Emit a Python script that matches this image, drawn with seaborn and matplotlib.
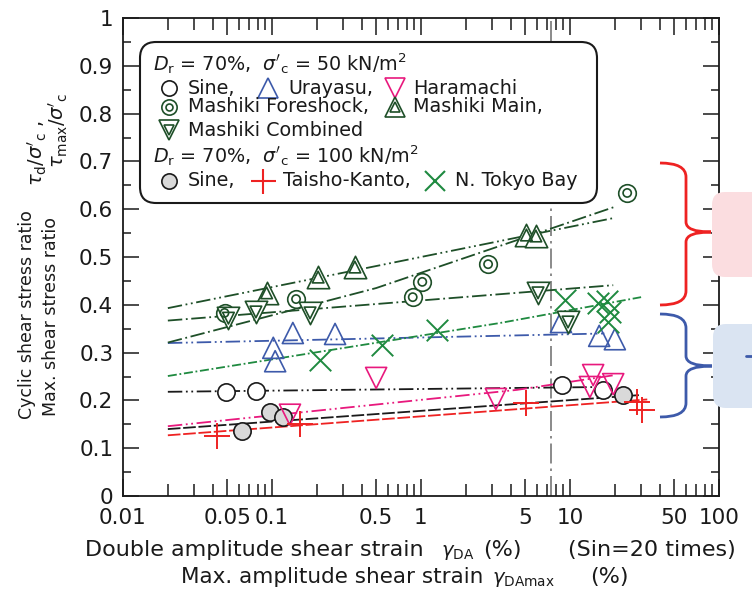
import numpy as np
import matplotlib
matplotlib.use("Agg")
import matplotlib.pyplot as plt
import seaborn as sns
from matplotlib.patches import FancyBboxPatch, PathPatch
from matplotlib.path import Path
from matplotlib.lines import Line2D
from matplotlib.ticker import FixedLocator, NullFormatter, FixedFormatter

sns.set_theme(style="ticks")
plt.rcParams['font.family'] = ['DejaVu Sans']
plt.rcParams['mathtext.fontset'] = 'dejavusans'

# ---------------- data ----------------
sine50_x = [0.049, 0.078, 8.9, 16.6]
sine50_y = [0.218, 0.220, 0.232, 0.222]
sine100_x = [0.063, 0.097, 0.119, 22.7]
sine100_y = [0.137, 0.176, 0.165, 0.211]
urayasu_x = [0.102, 0.105, 0.138, 0.265, 8.7, 15.7, 20.0]
urayasu_y = [0.310, 0.282, 0.341, 0.339, 0.364, 0.335, 0.328]
haramachi_x = [0.132, 0.50, 3.18, 13.6, 14.3, 19.5]
haramachi_y = [0.170, 0.247, 0.203, 0.228, 0.253, 0.234]
taisho_x = [0.043, 0.154, 5.1, 28.2, 30.5]
taisho_y = [0.125, 0.151, 0.195, 0.197, 0.180]
tokyo_x = [0.21, 0.547, 1.28, 9.2, 15.4, 17.7, 18.5, 17.9]
tokyo_y = [0.285, 0.316, 0.347, 0.410, 0.404, 0.408, 0.385, 0.364]
foreshock_x = [0.048, 0.145, 0.88, 1.02, 2.82, 24.2]
foreshock_y = [0.383, 0.412, 0.416, 0.448, 0.485, 0.634]
main_x = [0.092, 0.204, 0.36, 5.1, 5.9]
main_y = [0.425, 0.458, 0.479, 0.546, 0.544]
combined_x = [0.051, 0.078, 0.18, 6.1, 9.7]
combined_y = [0.372, 0.385, 0.383, 0.425, 0.364]

# trend lines
sine50_fit_x, sine50_fit_y = [0.02, 16], [0.218, 0.228]
sine100_fit_x, sine100_fit_y = [0.02, 29], [0.140, 0.211]
urayasu_fit_x, urayasu_fit_y = [0.02, 17], [0.320, 0.340]
haramachi_fit_x, haramachi_fit_y = [0.02, 4.4, 20], [0.146, 0.222, 0.253]
taisho_fit_x, taisho_fit_y = [0.02, 33], [0.127, 0.202]
tokyo_fit_x, tokyo_fit_y = [0.02, 3.4, 30], [0.251, 0.362, 0.416]
foreshock_fit_x, foreshock_fit_y = [0.02, 0.5, 20], [0.321, 0.435, 0.605]
main_fit_x, main_fit_y = [0.02, 20], [0.393, 0.582]
combined_fit_x, combined_fit_y = [0.02, 19.5], [0.367, 0.441]

ref_strain = [7.5]

x_ticks = [0.01, 0.05, 0.1, 0.5, 1, 5, 10, 50, 100]
x_tick_labels = ["0.01", "0.05", "0.1", "0.5", "1", "5", "10", "50", "100"]
y_ticks = [0, 0.1, 0.2, 0.3, 0.4, 0.5, 0.6, 0.7, 0.8, 0.9, 1.0]
y_tick_labels = ["0", "0.1", "0.2", "0.3", "0.4", "0.5", "0.6", "0.7", "0.8", "0.9", "1"]

# ---------------- styles ----------------
BLACK = '#1a1a1a'
BLUE = '#3d5aaa'
MAG = '#e8197d'
RED = '#ee2222'
GREEN = '#1f8a40'
DKG = '#1e4f28'
GRAYF = '#d9d9d9'
DDD = (0, (8, 2, 1, 2, 1, 2))
DD = (0, (8, 2, 1, 2))
DASH = (0, (7, 1.5))

W, H = 752, 590
fig = plt.figure(figsize=(W / 100, H / 100), dpi=100)
ax = fig.add_axes([123 / W, 1 - 496 / H, (719 - 123) / W, (496 - 18) / H])
ax.set_xscale('log')
ax.set_xlim(0.01, 100)
ax.set_ylim(0, 1)

# reference vertical line
for xv in ref_strain:
    ax.axvline(xv, color='#777777', lw=1.2, ls=(0, (12, 3, 1.5, 3)), zorder=1)


def fit(x, y, color, ls):
    sns.lineplot(x=x, y=y, ax=ax, color=color, lw=1.3, linestyle=ls,
                 sort=False, estimator=None, legend=False, zorder=3)


fit(sine50_fit_x, sine50_fit_y, BLACK, DDD)
fit(sine100_fit_x, sine100_fit_y, BLACK, DASH)
fit(urayasu_fit_x, urayasu_fit_y, BLUE, DDD)
fit(haramachi_fit_x, haramachi_fit_y, MAG, DDD)
fit(taisho_fit_x, taisho_fit_y, RED, DASH)
fit(tokyo_fit_x, tokyo_fit_y, GREEN, (0, (5, 1.5, 1, 1.5)))
fit(foreshock_fit_x, foreshock_fit_y, DKG, DD)
fit(main_fit_x, main_fit_y, DKG, DDD)
fit(combined_fit_x, combined_fit_y, DKG, DD)


def pts(x, y, marker, s, color, face='none', lw=1.2, z=5):
    sns.scatterplot(x=x, y=y, ax=ax, marker=marker, s=s, facecolor=face,
                    edgecolor=color, linewidth=lw, zorder=z, legend=False)


def pts_unfilled(x, y, marker, s, color, lw=1.4, z=5):
    sns.scatterplot(x=x, y=y, ax=ax, marker=marker, s=s, color=color,
                    linewidth=lw, zorder=z, legend=False)


pts(sine50_x, sine50_y, 'o', 155, BLACK, face='white')
pts(sine100_x, sine100_y, 'o', 155, BLACK, face=GRAYF)
pts(urayasu_x, urayasu_y, '^', 230, BLUE)
pts(haramachi_x, haramachi_y, 'v', 230, MAG)
pts_unfilled(taisho_x, taisho_y, '+', 360, RED)
pts_unfilled(tokyo_x, tokyo_y, 'x', 240, GREEN)
pts(foreshock_x, foreshock_y, 'o', 160, DKG, face='white')
pts(foreshock_x, foreshock_y, 'o', 35, DKG, face='none', z=6)
pts(main_x, main_y, '^', 260, DKG, face='white')
pts(main_x, main_y, '^', 70, DKG, face='none', z=6)
pts(combined_x, combined_y, 'v', 260, DKG, face='white')
pts(combined_x, combined_y, 'v', 70, DKG, face='none', z=6)

# ---------------- axes & ticks ----------------
ax.xaxis.set_major_locator(FixedLocator(x_ticks))
ax.xaxis.set_major_formatter(FixedFormatter(x_tick_labels))
minor_x = [m * 10.0 ** e for e in range(-2, 2) for m in (2, 3, 4, 6, 7, 8, 9)]
ax.xaxis.set_minor_locator(FixedLocator(minor_x))
ax.xaxis.set_minor_formatter(NullFormatter())
ax.yaxis.set_major_locator(FixedLocator(y_ticks))
ax.yaxis.set_major_formatter(FixedFormatter(y_tick_labels))
ax.yaxis.set_minor_locator(FixedLocator([v + 0.05 for v in y_ticks[:-1]]))
ax.tick_params(which='both', direction='in', top=True, right=True,
               width=1.1, color=BLACK, labelcolor=BLACK)
ax.tick_params(axis='x', which='major', length=12, labelsize=15.5, pad=9)
ax.tick_params(axis='x', which='minor', length=8.5)
ax.tick_params(axis='y', which='major', length=11.5, labelsize=15.5, pad=7)
ax.tick_params(axis='y', which='minor', length=6)
for sp in ax.spines.values():
    sp.set_linewidth(1.3)
    sp.set_color(BLACK)
ax.set_xlabel('')
ax.set_ylabel('')

T = fig.dpi_scale_trans


def P(xp, yp):
    return (xp / 100.0, (H - yp) / 100.0)


# ---------------- axis titles ----------------
fig.text(*P(27, 315), "Cyclic shear stress ratio", rotation=90, ha='center', va='center',
         fontsize=12.5, transform=T, color=BLACK)
fig.text(*P(37, 153), r"$\tau_{\rm d}/\sigma'_{\rm c}$ ,", rotation=90, ha='center', va='center',
         fontsize=14, transform=T, color=BLACK)
fig.text(*P(51, 316), "Max. shear stress ratio", rotation=90, ha='center', va='center',
         fontsize=12.5, transform=T, color=BLACK)
fig.text(*P(58, 131), r"$\tau_{\rm max}/\sigma'_{\rm c}$", rotation=90, ha='center', va='center',
         fontsize=14, transform=T, color=BLACK)

fig.text(*P(85, 556), "Double amplitude shear strain", fontsize=16, va='baseline', transform=T, color=BLACK)
fig.text(*P(441, 556), r"$\gamma_{\rm DA}$", fontsize=14, va='baseline', transform=T, color=BLACK)
fig.text(*P(483, 556), "(%)", fontsize=16, va='baseline', transform=T, color=BLACK)
fig.text(*P(568, 556), "(Sin=20 times)", fontsize=16, va='baseline', transform=T, color=BLACK)
fig.text(*P(181, 583), "Max. amplitude shear strain", fontsize=15.5, va='baseline', transform=T, color=BLACK)
fig.text(*P(492, 583), r"$\gamma_{\rm DAmax}$", fontsize=14, va='baseline', transform=T, color=BLACK)
fig.text(*P(590, 583), "(%)", fontsize=16, va='baseline', transform=T, color=BLACK)

# ---------------- legend box ----------------
x0, y0 = P(140, 203)
x1, y1 = P(597, 42)
fig.add_artist(FancyBboxPatch((x0, y0), x1 - x0, y1 - y0,
                              boxstyle="round,pad=0,rounding_size=0.16",
                              transform=T, facecolor='white', edgecolor=BLACK,
                              lw=1.5, zorder=10))


def lmark(xp, yp, marker, ms, color, face='none', mew=1.2):
    fig.add_artist(Line2D([xp / 100.0], [(H - yp) / 100.0], transform=T, marker=marker,
                          ms=ms, mfc=face, mec=color, mew=mew, ls='none', zorder=11))


def ltext(xp, yp, s, size=13.8):
    fig.text(xp / 100.0, (H - yp) / 100.0, s, fontsize=size, va='center', ha='left',
             transform=T, color=BLACK, zorder=12)


ltext(153, 64, r"$D_{\rm r}$ = 70%,  $\sigma'_{\rm c}$ = 50 kN/m$^2$")
lmark(169, 88, 'o', 11, BLACK, 'white')
ltext(188, 88, "Sine,")
lmark(268, 88, '^', 14, BLUE)
ltext(288, 88, "Urayasu,")
lmark(395, 88, 'v', 14, MAG)
ltext(413, 88, "Haramachi")
lmark(169, 107, 'o', 11, DKG, 'white')
lmark(169, 107, 'o', 5, DKG)
ltext(188, 107, "Mashiki Foreshock,")
lmark(395, 107, '^', 14, DKG, 'white')
lmark(395, 107, '^', 7, DKG)
ltext(413, 107, "Mashiki Main,")
lmark(169, 130, 'v', 14, DKG, 'white')
lmark(169, 130, 'v', 7, DKG)
ltext(188, 130, "Mashiki Combined")
ltext(153, 156, r"$D_{\rm r}$ = 70%,  $\sigma'_{\rm c}$ = 100 kN/m$^2$")
lmark(169, 181, 'o', 11, BLACK, GRAYF)
ltext(188, 181, "Sine,")
lmark(263, 181, '+', 18, RED, mew=1.5)
ltext(283, 181, "Taisho-Kanto,")
lmark(435, 181, 'x', 14, GREEN, mew=1.5)
ltext(455, 181, "N. Tokyo Bay")

# ---------------- right-side annotations ----------------
px0, py0 = P(712, 277)
fig.add_artist(FancyBboxPatch((px0, py0), 1.0, (277 - 192) / 100.0,
                              boxstyle="round,pad=0,rounding_size=0.13", transform=T,
                              facecolor='#fbdde0', edgecolor='none', zorder=8))
bx0, by0 = P(713, 408)
fig.add_artist(FancyBboxPatch((bx0, by0), 1.0, (408 - 324) / 100.0,
                              boxstyle="round,pad=0,rounding_size=0.13", transform=T,
                              facecolor='#dae4f2', edgecolor='none', zorder=8))
fig.add_artist(Line2D([746 / 100.0, 760 / 100.0], [(H - 356) / 100.0] * 2, transform=T,
                      color=BLUE, lw=2, zorder=9))


def brace(xl, xm, xt, yt, yb, ytip, color):
    verts = [P(xl, yt), P(xm, yt), P(xm, yt + 14),
             P(xm, ytip - 10), P(xm, ytip), P(xt, ytip),
             P(xm, ytip), P(xm, ytip + 10),
             P(xm, yb - 14), P(xm, yb), P(xl, yb)]
    codes = [Path.MOVETO, Path.CURVE3, Path.CURVE3,
             Path.LINETO, Path.CURVE3, Path.CURVE3,
             Path.CURVE3, Path.CURVE3,
             Path.LINETO, Path.CURVE3, Path.CURVE3]
    fig.add_artist(PathPatch(Path(verts, codes), transform=T, fill=False,
                             edgecolor=color, lw=2, zorder=9))


brace(660, 686, 711, 163, 305, 232, RED)
brace(660, 686, 712, 314, 417, 366, BLUE)

fig.savefig("out.png", dpi=100)
